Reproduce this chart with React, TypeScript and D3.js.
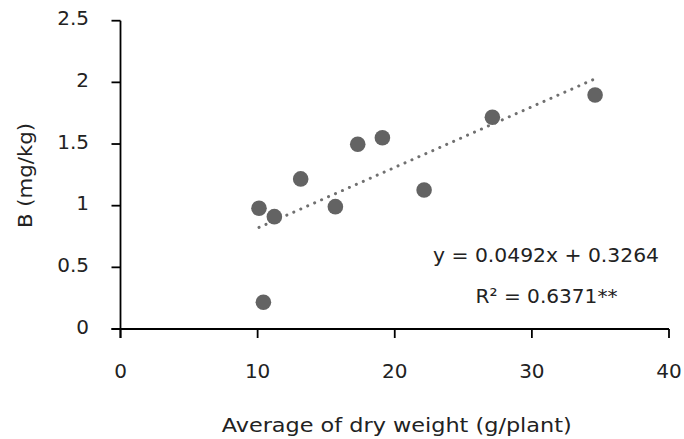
import React from "react";
import * as d3 from "d3";

// Average dry weight (g/plant) and boron content (mg/kg) per sample
const dryWeight = [10.1, 10.42, 11.22, 13.14, 15.67, 17.3, 19.1, 22.14, 27.12, 34.61];
const boron = [0.979, 0.217, 0.911, 1.217, 0.992, 1.498, 1.551, 1.127, 1.717, 1.898];

const xTicks = [0, 10, 20, 30, 40];
const yTicks = [0, 0.5, 1, 1.5, 2, 2.5];

// Linear regression reported for the fit
const slope = 0.0492;
const intercept = 0.3264;
const equationLabel = "y = 0.0492x + 0.3264";
const r2Label = "R² = 0.6371**";

const W = 684;
const H = 439;
const FONT = "'DejaVu Sans', sans-serif";
const FS = 20;
const TEXT = "#222";

export default function App() {
  const x = d3.scaleLinear().domain([0, 40]).range([120.5, 669]);
  const y = d3.scaleLinear().domain([0, 2.5]).range([329, 20.7]);

  const xMin = d3.min(dryWeight)!;
  const xMax = d3.max(dryWeight)!;
  const trend = d3
    .line<number>()
    .x((d) => x(d))
    .y((d) => y(slope * d + intercept))([xMin, xMax]);

  return (
    <svg
      width={W}
      height={H}
      style={{ position: "absolute", left: 0, top: 0, background: "#fff" }}
      fontFamily={FONT}
    >
      {/* axes */}
      <line x1={x(0)} x2={x(0)} y1={y(2.5)} y2={y(0) + 9} stroke="#000" strokeWidth={1.8} />
      <line x1={x(0) - 9} x2={x(40)} y1={y(0)} y2={y(0)} stroke="#000" strokeWidth={1.8} />
      {yTicks.map((t) => (
        <g key={"y" + t}>
          <line x1={x(0) - 9} x2={x(0)} y1={y(t)} y2={y(t)} stroke="#000" strokeWidth={1.8} />
          <text x={89} y={y(t) + 4.5} textAnchor="end" fontSize={FS} fill={TEXT}>
            {t}
          </text>
        </g>
      ))}
      {xTicks.map((t) => (
        <g key={"x" + t}>
          <line x1={x(t)} x2={x(t)} y1={y(0)} y2={y(0) + 9} stroke="#000" strokeWidth={1.8} />
          <text x={x(t)} y={377.7} textAnchor="middle" fontSize={FS} fill={TEXT}>
            {t}
          </text>
        </g>
      ))}

      {/* axis titles */}
      <text
        x={396.7}
        y={431.5}
        textAnchor="middle"
        fontSize={FS}
        fill={TEXT}
        textLength={350}
        lengthAdjust="spacingAndGlyphs"
      >
        Average of dry weight (g/plant)
      </text>
      <text
        transform="translate(25,175.5) rotate(-90)"
        dy="0.35em"
        textAnchor="middle"
        fontSize={FS}
        fill={TEXT}
        textLength={105}
        lengthAdjust="spacingAndGlyphs"
      >
        B (mg/kg)
      </text>

      {/* trend line */}
      <path
        d={trend ?? ""}
        fill="none"
        stroke="#707070"
        strokeWidth={3}
        strokeLinecap="round"
        strokeDasharray="0.1 7.5"
      />

      {/* data points */}
      {dryWeight.map((d, i) => (
        <circle key={i} cx={x(d)} cy={y(boron[i])} r={7.8} fill="#636363" />
      ))}

      {/* regression annotation */}
      <text
        x={546}
        y={262.3}
        textAnchor="middle"
        fontSize={FS}
        fill={TEXT}
        textLength={226}
        lengthAdjust="spacingAndGlyphs"
      >
        {equationLabel}
      </text>
      <text
        x={546.5}
        y={302.5}
        textAnchor="middle"
        fontSize={FS}
        fill={TEXT}
        textLength={142}
        lengthAdjust="spacingAndGlyphs"
      >
        {r2Label}
      </text>
    </svg>
  );
}
